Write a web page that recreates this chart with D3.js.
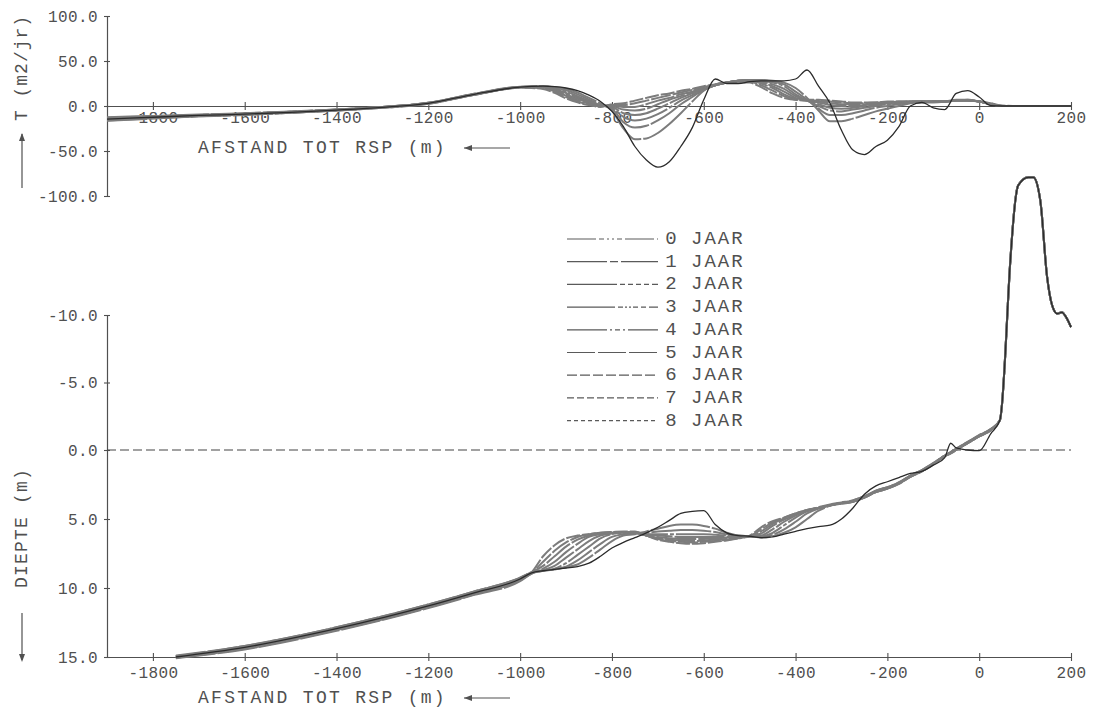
<!DOCTYPE html>
<html>
<head>
<meta charset="utf-8">
<script src="https://cdn.jsdelivr.net/npm/d3@7/dist/d3.min.js"></script>
<style>
html,body{margin:0;padding:0;background:#fff;}
svg{display:block;}
text{font-family:"Liberation Mono","DejaVu Sans Mono",monospace;fill:#505050;}
</style>
</head>
<body>
<svg id="chart" width="1093" height="711"></svg>
<script>
// ---------------- DATA ----------------
const years = [0,1,2,3,4,5,6,7,8];
const xTicks = [-1800,-1600,-1400,-1200,-1000,-800,-600,-400,-200,0,200];
const topYTicks = [100,50,0,-50,-100];
const botYTicks = [-10,-5,0,5,10,15];

// top chart: transport T (m2/jr) vs distance
const topX = [-1900,-1800,-1700,-1600,-1500,-1400,-1300,-1200,-1100,-1000,
  -950,-925,-900,-875,-850,-825,-800,-775,-750,-725,-700,-675,-650,-625,-600,-575,-550,
  -525,-500,-475,-450,-425,-400,-375,-350,-325,
  -300,-275,-250,-225,-200,-175,-150,-125,-100,-75,-50,-25,0,25,50,
  100,150,200];
const top0 = [-14.5,-12.5,-10.5,-9,-7,-4.5,-1.5,3,13,21,
  22,21.5,20,17,12,5,-6,-23,-45,-60,-68,-62,-45,-24,7,30,25,
  25,27,28,28,28,30,40,22,3,
  -27,-49,-54,-45,-38,-23,0,4,-2,-4,14,17,10,0.5,0,
  0,0,0];
const top1 = [-15,-13,-11,-9.5,-7.5,-5,-1.5,3,13,21,
  22,21,19,15,9,3,-5,-25,-37,-36,-30,-20,-8,5,17,24,26,
  28,29,29,28,26,20,9,-5,-17,
  -17,-14,-10,-6,-3,0,3,4,4,5,7,7,5,2,0,
  0,0,0];
const top2 = [-13,-11.5,-10,-8.5,-6.5,-4,-1,3.5,13.5,21.5,
  22,20.5,17.5,13,7,1.5,-3,-18,-24,-22,-16,-8,2,10,18,23,26,
  28,29,29,27,24,16,7,-3,-10,
  -10,-8,-5,-2,0,2,4,4,5,5,6,7,5,2,0,
  0,0,0];
const top3 = [-16,-13.5,-11.5,-9.5,-7.5,-5,-2,2.5,12.5,21,
  22,20,16,11,5.5,1,-2,-12,-16,-14,-9,-2,6,12,18,23,26,
  28,29,28,26,22,13,6,0,-5,
  -6,-4,-2,0,2,3,4,5,5,5,6,6,5,2,0,
  0,0,0];
const top4 = [-12.5,-11,-9.5,-8,-6,-4,-1,3.5,13.5,21,
  21.5,19,14.5,9.5,4.5,0.5,-1,-8,-10,-8,-3,3,9,14,19,23,26,
  28,29,27,24,19,11,6,2,-2,
  -3,-2,0,1,3,4,4,5,5,5,6,6,5,2,0,
  0,0,0];
const top5 = [-16.5,-14,-11.5,-10,-7.5,-5,-2,2.5,12.5,20.5,
  21,18,13,8,3.5,0.5,0,-4,-5,-3,2,7,11,15,19,23,26,
  28,28.5,26,22,16,9,6,4,1,
  0,0,1,2,3,4,5,5,5,5,6,6,5,2,0,
  0,0,0];
const top6 = [-13.5,-12,-10,-8.5,-6.5,-4.5,-1,3,13,21,
  20.5,17,11.5,6.5,2.5,0,1,-1,-1,2,6,9,13,16,20,23,26,
  27.5,28,25,20,13,8,6,5,3,
  2,2,2,3,4,4,5,5,5,5,6,6,5,2,0,
  0,0,0];
const top7 = [-15.5,-13,-11,-9,-7,-4.5,-1.5,3,12.5,20.5,
  20,16,10,5,1.5,-0.5,1,1,3,6,9,12,15,18,21,24,26,
  27,27,23,17,11,7,6,6,5,
  4,3,3,4,4,5,5,5,5,5,6,6,5,3,0,
  0,0,0];
const top8 = [-14,-12,-10.5,-8.5,-6.5,-4,-1,3.5,13,20.5,
  19,14.5,8.5,4,1,-1,2,3,6,9,12,14,17,19,22,24,26,
  26.5,26,21,14,9,7,7,7,6,
  5,4,4,4,5,5,5,5,5,5,6,6,5,3,0.5,
  0,0,0];

// bottom chart: depth (m) vs distance
const botX = [-1750,-1600,-1400,-1200,-1100,-1000,-975,
  -950,-925,-900,-875,-850,-825,-800,-775,-750,
  -725,-700,-675,-650,-625,-600,-575,-550,-525,-500,
  -475,-450,-425,-400,-375,-350,-325,-300,
  -275,-250,-225,-200,-175,-150,-125,-100,-75,-62,-50,-25,0,25,
  45,50,55,67,85,107,118,133,148,159,170,180,190,200];
const bot0 = [15.0,14.3,12.95,11.3,10.35,9.35,8.9,
  8.75,8.65,8.55,8.45,8.2,7.7,7.1,6.7,6.35,
  6.0,5.6,5.1,4.6,4.45,4.4,5.4,6.0,6.2,6.25,
  6.35,6.3,6.1,5.9,5.7,5.55,5.45,5.0,
  4.2,3.2,2.6,2.3,2.0,1.7,1.55,1.1,0.55,-0.5,-0.15,0.0,0.05,-1.2,
  -2.2,-3.5,-6.0,-13.6,-19.6,-20.2,-20.2,-18.5,-12.8,-10.7,-10.1,-10.2,-9.8,-9.1];
const bot1 = [15.0,14.35,13.0,11.35,10.4,9.4,8.9,
  8.75,8.65,8.5,8.3,7.8,7.2,6.6,6.2,6.1,
  5.9,5.7,5.5,5.4,5.4,5.5,5.7,6.0,6.2,6.25,
  6.35,6.25,6.0,5.6,5.0,4.4,4.05,3.85,
  3.75,3.45,3.05,2.8,2.45,1.95,1.55,1.05,0.45,0.25,0.0,-0.5,-1.0,-1.45,
  -2.2,-3.5,-6.0,-13.6,-19.6,-20.2,-20.2,-18.5,-12.8,-10.7,-10.1,-10.2,-9.8,-9.1];
const bot2 = [14.95,14.25,12.9,11.25,10.3,9.3,8.9,
  8.75,8.65,8.45,8.0,7.4,6.8,6.3,6.1,6.0,
  6.0,5.9,5.85,5.8,5.8,5.85,5.95,6.1,6.2,6.25,
  6.3,6.15,5.75,5.2,4.6,4.25,4.0,3.85,
  3.7,3.4,3.0,2.75,2.4,1.9,1.5,1.0,0.42,0.2,-0.05,-0.55,-1.05,-1.5,
  -2.2,-3.5,-6.0,-13.6,-19.6,-20.2,-20.2,-18.5,-12.8,-10.7,-10.1,-10.2,-9.8,-9.1];
const bot3 = [15.05,14.4,13.05,11.4,10.45,9.45,8.95,
  8.75,8.6,8.2,7.6,7.0,6.4,6.1,6.0,6.0,
  6.1,6.1,6.1,6.1,6.1,6.1,6.15,6.2,6.25,6.25,
  6.25,6.0,5.45,4.9,4.45,4.2,4.0,3.85,
  3.65,3.35,2.95,2.7,2.35,1.85,1.45,0.95,0.4,0.15,-0.1,-0.6,-1.1,-1.5,
  -2.2,-3.5,-6.0,-13.6,-19.6,-20.2,-20.2,-18.5,-12.8,-10.7,-10.1,-10.2,-9.8,-9.1];
const bot4 = [14.95,14.2,12.85,11.2,10.25,9.25,8.85,
  8.7,8.4,7.8,7.2,6.6,6.2,6.05,6.0,6.0,
  6.15,6.2,6.25,6.3,6.3,6.3,6.3,6.3,6.3,6.25,
  6.2,5.75,5.2,4.75,4.4,4.2,4.0,3.9,
  3.75,3.4,3.05,2.8,2.4,1.95,1.5,1.0,0.45,0.2,-0.05,-0.5,-1.05,-1.55,
  -2.2,-3.5,-6.0,-13.6,-19.6,-20.2,-20.2,-18.5,-12.8,-10.7,-10.1,-10.2,-9.8,-9.1];
const bot5 = [15.1,14.45,13.1,11.45,10.5,9.5,8.95,
  8.6,8.1,7.4,6.8,6.3,6.1,6.0,5.95,6.0,
  6.2,6.3,6.4,6.45,6.45,6.45,6.4,6.35,6.3,6.25,
  6.05,5.5,5.05,4.7,4.4,4.2,4.0,3.85,
  3.7,3.45,3.0,2.7,2.4,1.9,1.55,1.05,0.4,0.2,-0.05,-0.55,-1.0,-1.5,
  -2.2,-3.5,-6.0,-13.6,-19.6,-20.2,-20.2,-18.5,-12.8,-10.7,-10.1,-10.2,-9.8,-9.1];
const bot6 = [14.9,14.2,12.85,11.2,10.25,9.25,8.85,
  8.4,7.7,7.0,6.5,6.2,6.05,6.0,5.95,6.0,
  6.2,6.4,6.5,6.55,6.6,6.55,6.5,6.45,6.35,6.25,
  5.9,5.35,4.95,4.65,4.35,4.15,3.95,3.8,
  3.65,3.35,3.0,2.75,2.35,1.85,1.45,0.95,0.42,0.15,-0.1,-0.6,-1.05,-1.5,
  -2.2,-3.5,-6.0,-13.6,-19.6,-20.2,-20.2,-18.5,-12.8,-10.7,-10.1,-10.2,-9.8,-9.1];
const bot7 = [15.05,14.4,13.05,11.4,10.45,9.4,8.9,
  8.1,7.3,6.7,6.3,6.1,6.0,5.95,5.95,5.95,
  6.2,6.45,6.6,6.65,6.7,6.65,6.6,6.5,6.4,6.25,
  5.75,5.25,4.9,4.6,4.35,4.2,4.0,3.85,
  3.7,3.4,2.95,2.7,2.4,1.9,1.5,1.0,0.38,0.2,-0.05,-0.55,-1.1,-1.55,
  -2.2,-3.5,-6.0,-13.6,-19.6,-20.2,-20.2,-18.5,-12.8,-10.7,-10.1,-10.2,-9.8,-9.1];
const bot8 = [14.95,14.3,12.9,11.25,10.3,9.3,8.85,
  7.7,6.9,6.4,6.2,6.1,6.0,5.95,5.9,5.9,
  6.2,6.5,6.65,6.75,6.8,6.75,6.65,6.55,6.4,6.2,
  5.6,5.15,4.9,4.6,4.35,4.2,4.0,3.85,
  3.75,3.45,3.05,2.8,2.45,1.95,1.55,1.0,0.45,0.25,0.0,-0.5,-1.0,-1.45,
  -2.2,-3.5,-6.0,-13.6,-19.6,-20.2,-20.2,-18.5,-12.8,-10.7,-10.1,-10.2,-9.8,-9.1];

const topSeries = [top0,top1,top2,top3,top4,top5,top6,top7,top8];
const botSeries = [bot0,bot1,bot2,bot3,bot4,bot5,bot6,bot7,bot8];

// ---------------- STYLES ----------------
const dashes = [
  "29,3,5,3,2,3,2,3,5,3",
  "40,3,8,3",
  "50,3,5,3,5,3,5,3,5,3",
  "48,3,5,2,2,2,2,2,5,3,5,3",
  "40,3,2,3,5,3,2,3",
  "28,3",
  "10,3",
  "7,3",
  "4,3"
];
const plotDashes = [null,"60,2","60,2","50,2,4,2","50,2","40,2","30,2","20,2","14,2"];
const ink = "#505050";

// ---------------- DRAW ----------------
const svg = d3.select("#chart");
const x = d3.scaleLinear().domain([-1900,200]).range([107,1071]);
const yTop = d3.scaleLinear().domain([-100,100]).range([196,16]);
const yBot = d3.scaleLinear().domain([-10,0,15]).range([315,450,657]);

function styleAxis(g){
  g.select(".domain").attr("stroke",ink).attr("stroke-width",1.2);
  g.selectAll(".tick line").attr("stroke",ink).attr("stroke-width",1.1);
  g.selectAll(".tick text").attr("fill",ink)
    .style("font-family",'"Liberation Mono","DejaVu Sans Mono",monospace')
    .style("font-size","16px").style("letter-spacing","0.4px");
}

// top x axis (on T=0)
const gxTop = svg.append("g").attr("transform",`translate(0,${yTop(0)})`)
  .call(d3.axisBottom(x).tickValues(xTicks).tickFormat(d=>String(d)).tickSizeOuter(0).tickSizeInner(4));
styleAxis(gxTop);
gxTop.selectAll(".tick line").attr("y1",-4).attr("y2",4);
gxTop.selectAll(".tick text").attr("y",6);

// top y axis
const gyTop = svg.append("g").attr("transform",`translate(${x(-1900)},0)`)
  .call(d3.axisLeft(yTop).tickValues(topYTicks).tickFormat(d=>d.toFixed(1)).tickSizeOuter(0).tickSizeInner(3));
styleAxis(gyTop);
gyTop.selectAll(".tick line").attr("x1",-3).attr("x2",3);
gyTop.selectAll(".tick text").attr("x",-9);

// bottom x axis
const gxBot = svg.append("g").attr("transform",`translate(0,${yBot(15)})`)
  .call(d3.axisBottom(x).tickValues(xTicks).tickFormat(d=>String(d)).tickSizeOuter(0).tickSizeInner(4));
styleAxis(gxBot);
gxBot.selectAll(".tick line").attr("y1",-4).attr("y2",4);
gxBot.selectAll(".tick text").attr("y",10);

// bottom y axis
const gyBot = svg.append("g").attr("transform",`translate(${x(-1900)},0)`)
  .call(d3.axisLeft(yBot).tickValues(botYTicks).tickFormat(d=>d.toFixed(1)).tickSizeOuter(0).tickSizeInner(3));
styleAxis(gyBot);
gyBot.selectAll(".tick line").attr("x1",-3).attr("x2",3);
gyBot.selectAll(".tick text").attr("x",-9);

// dashed zero line in bottom chart
svg.append("line").attr("x1",x(-1900)).attr("x2",x(200)).attr("y1",yBot(0)).attr("y2",yBot(0))
  .attr("stroke","#444").attr("stroke-width",1.2).attr("stroke-dasharray","9,4");

// axis titles
function xTitle(yc){
  svg.append("text").attr("x",198).attr("y",yc).attr("dominant-baseline","central")
    .style("font-size","18px").style("letter-spacing","2.3px").text("AFSTAND TOT RSP (m)");
  svg.append("line").attr("x1",464).attr("x2",510).attr("y1",yc).attr("y2",yc)
    .attr("stroke",ink).attr("stroke-width",1.2);
  svg.append("path").attr("d",`M464,${yc} l8,-3 l0,6 z`).attr("fill",ink);
}
xTitle(148);
xTitle(698);

svg.append("text").attr("transform","translate(22,68) rotate(-90)")
  .attr("text-anchor","middle").attr("dominant-baseline","central")
  .style("font-size","18px").style("letter-spacing","1px").text("T (m2/jr)");
svg.append("line").attr("x1",22).attr("x2",22).attr("y1",188).attr("y2",134).attr("stroke",ink).attr("stroke-width",1.2);
svg.append("path").attr("d","M22,133 l-3,8 l6,0 z").attr("fill",ink);

svg.append("text").attr("transform","translate(22,528) rotate(-90)")
  .attr("text-anchor","middle").attr("dominant-baseline","central")
  .style("font-size","18px").style("letter-spacing","1.2px").text("DIEPTE (m)");
svg.append("line").attr("x1",22).attr("x2",22).attr("y1",613).attr("y2",660).attr("stroke",ink).attr("stroke-width",1.2);
svg.append("path").attr("d","M22,662 l-3,-8 l6,0 z").attr("fill",ink);

// legend
const legend = svg.append("g");
years.forEach((yr,i)=>{
  const yy = 239 + i*22.7;
  legend.append("line").attr("x1",567).attr("x2",658).attr("y1",yy).attr("y2",yy)
    .attr("stroke","#5a5a5a").attr("stroke-width",1.2).attr("stroke-dasharray",dashes[i]);
  legend.append("text").attr("x",671).attr("y",yy).attr("text-anchor","middle")
    .attr("dominant-baseline","central").style("font-size","19px").text(String(yr));
  legend.append("text").attr("x",691).attr("y",yy).attr("dominant-baseline","central")
    .style("font-size","19px").style("letter-spacing","2px").text("JAAR");
});

// series lines
const lineTop = d3.line().x((d,i)=>x(topX[i])).y(d=>yTop(d)).curve(d3.curveMonotoneX);
const lineBot = d3.line().x((d,i)=>x(botX[i])).y(d=>yBot(d)).curve(d3.curveMonotoneX);

const order = [8,7,6,5,4,3,2,1,0];
order.forEach(k=>{
  const col = k===0 ? "#2b2b2b" : "#7c7c7c";
  const w = k===0 ? 1.3 : 2.0;
  [[lineTop,topSeries],[lineBot,botSeries]].forEach(([gen,ser])=>{
    const p = svg.append("path").attr("d",gen(ser[k])).attr("fill","none")
      .attr("stroke",col).attr("stroke-width",w).attr("stroke-linejoin","round");
    if(plotDashes[k]) p.attr("stroke-dasharray",plotDashes[k]);
  });
});
</script>
</body>
</html>
